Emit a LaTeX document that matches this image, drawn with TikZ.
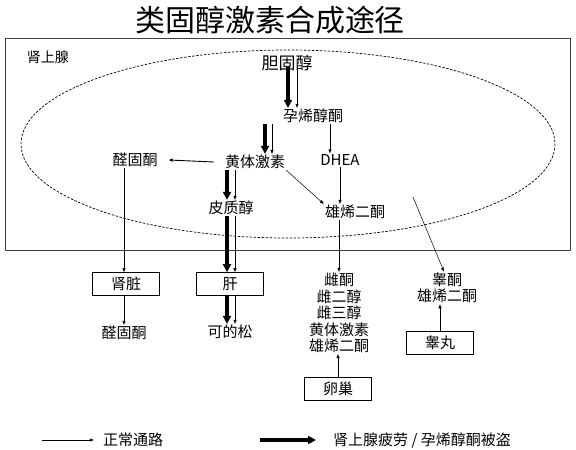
\documentclass[tikz,border=0pt]{standalone}
\usepackage{fontspec}
\newfontfamily\cjk{Noto Sans CJK SC}
\usetikzlibrary{arrows.meta}

\tikzset{
  normal/.style={-{Triangle[length=4pt,width=3pt]}, line width=0.5pt},
  heavy/.style={-{Triangle[length=8pt,width=8pt]}, line width=3.2pt},
  organ/.style={draw, line width=0.7pt, minimum width=67pt, minimum height=23pt},
}

\begin{document}
\begin{tikzpicture}[x=1pt, y=-1pt,
      every node/.style={font=\cjk\fontsize{15}{16.5}\selectfont, inner sep=1pt}]
    \useasboundingbox (0,0) rectangle (576,450);
    % title and adrenal frame
    \node[font=\cjk\fontsize{30}{32}\selectfont] (title) at (270,20) {类固醇激素合成途径};
    \draw[line width=0.7pt, black!75] (5,38) rectangle (570,250);
    \node[font=\cjk\fontsize{14}{16}\selectfont] (adrenal) at (48,57) {肾上腺};
    \draw[dash pattern=on 2.5pt off 1.5pt, line width=0.7pt] (288,144) ellipse [x radius=267, y radius=94];

    % adrenal pathway
    \node[font=\cjk\fontsize{17}{19}\selectfont] (chol) at (287,63) {胆固醇};
    \node (preg) at (313,116) {孕烯醇酮};
    \node (prog) at (255,162) {黄体激素};
    \node (dhea) at (340,160) {DHEA};
    \node (aldo) at (135,160) {醛固酮};
    \node (cort) at (231,208) {皮质醇};
    \node (andro) at (355,212) {雄烯二酮};
    \coordinate (tstart) at (413,197);

    % organs and products
    \node[organ] (kidney) at (126,284) {肾脏};
    \node[organ] (liver) at (230,284) {肝};
    \node (aldo2) at (124,333) {醛固酮};
    \node (cortisone) at (230,332) {可的松};
    \node[align=center] (estro) at (339,313) {雌酮\\雌二醇\\雌三醇\\黄体激素\\雄烯二酮};
    \node[align=center] (testo) at (447,288) {睾酮\\雄烯二酮};
    \node[organ] (testis) at (440,343) {睾丸};
    \node[organ] (ovary) at (338,389) {卵巢};

    % connectors
    \draw[heavy] ([xshift=1pt,yshift=5pt]chol.south) -- ([xshift=1pt]chol.south |- preg.north);
    \draw[normal] ([xshift=10pt,yshift=5pt]chol.south) -- ([xshift=10pt]chol.south |- preg.north);
    \draw[heavy] ([xshift=10pt]prog.north |- preg.south) -- ([xshift=10pt]prog.north);
    \draw[normal] ([xshift=17pt]prog.north |- preg.south) -- ([xshift=17pt]prog.north);
    \draw[normal] ([xshift=17pt]preg.south) -- ([xshift=17pt]preg.south |- dhea.north);
    \draw[normal, line width=0.9pt] ([xshift=-10pt]prog.west) -- ([xshift=10pt]aldo.east);
    \draw[normal] (prog.south east) -- (andro.north west);
    \draw[normal] (dhea.south) -- (dhea.south |- andro.north);
    \draw[heavy] ([xshift=-4pt]cort.north |- prog.south) -- ([xshift=-4pt]cort.north);
    \draw[normal] ([xshift=4pt]cort.north |- prog.south) -- ([xshift=4pt]cort.north);
    \draw[heavy] ([xshift=-4pt]cort.south) -- ([xshift=-3pt]liver.north);
    \draw[normal] ([xshift=4pt]cort.south) -- ([xshift=5pt]liver.north);
    \draw[normal] ([xshift=-2pt]kidney.north |- aldo.south) -- ([xshift=-2pt]kidney.north);
    \draw[normal] ([xshift=-2pt]kidney.south) -- ([xshift=-2pt]kidney.south |- aldo2.north);
    \draw[heavy] ([xshift=-3pt]liver.south) -- ([xshift=-3pt]liver.south |- cortisone.north);
    \draw[normal] ([xshift=5pt]liver.south) -- ([xshift=5pt]liver.south |- cortisone.north);
    \draw[normal] (estro.north |- andro.south) -- (estro.north);
    \draw[normal] (tstart) -- ([xshift=-3pt]testo.north);
    \draw[normal] (ovary.north) -- (ovary.north |- estro.south);
    \draw[normal] (testis.north) -- (testis.north |- testo.south);

    % legend
    \node (legA) at (133,440) {正常通路};
    \node (legB) at (422,440) {肾上腺疲劳 / 孕烯醇酮被盗};
    \coordinate (lgA) at (42,440);
    \coordinate (lgB) at (260,440);
    \draw[normal] (lgA) -- ([xshift=-8pt]legA.west);
    \draw[heavy] (lgB) -- ([xshift=-16pt]legB.west);
\end{tikzpicture}
\end{document}
